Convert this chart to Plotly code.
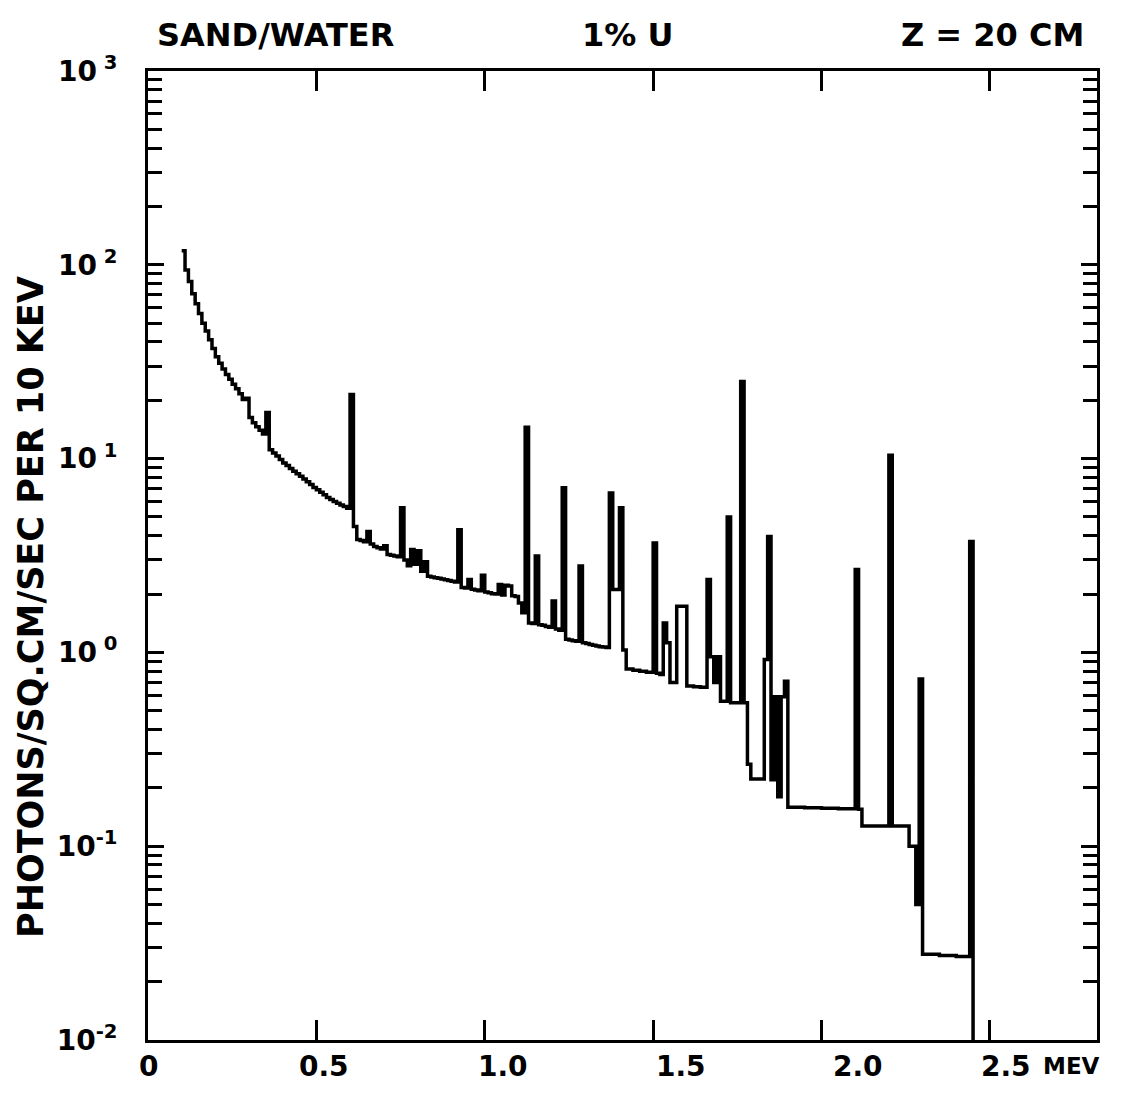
import plotly.graph_objects as go

# ---- data (bin left edge in MeV, flux per 10 keV) ----
energy_mev = [
    0.10, 0.11, 0.12, 0.13, 0.14, 0.15, 0.16, 0.17, 0.18, 0.19,
    0.20, 0.21, 0.22, 0.23, 0.24, 0.25, 0.26, 0.27, 0.28, 0.29,
    0.30, 0.31, 0.32, 0.33, 0.34, 0.35, 0.36, 0.37, 0.38, 0.39,
    0.40, 0.41, 0.42, 0.43, 0.44, 0.45, 0.46, 0.47, 0.48, 0.49,
    0.50, 0.51, 0.52, 0.53, 0.54, 0.55, 0.56, 0.57, 0.58, 0.59,
    0.60, 0.61, 0.62, 0.63, 0.64, 0.65, 0.66, 0.67, 0.68, 0.69,
    0.70, 0.71, 0.72, 0.73, 0.74, 0.75, 0.76, 0.77, 0.78, 0.79,
    0.80, 0.81, 0.82, 0.83, 0.84, 0.85, 0.86, 0.87, 0.88, 0.89,
    0.90, 0.91, 0.92, 0.93, 0.94, 0.95, 0.96, 0.97, 0.98, 0.99,
    1.00, 1.01, 1.02, 1.03, 1.04, 1.05, 1.06, 1.07, 1.08, 1.09,
    1.10, 1.11, 1.12, 1.13, 1.14, 1.15, 1.16, 1.17, 1.18, 1.19,
    1.20, 1.21, 1.22, 1.23, 1.24, 1.25, 1.26, 1.27, 1.28, 1.29,
    1.30, 1.31, 1.32, 1.33, 1.34, 1.35, 1.36, 1.37, 1.38, 1.39,
    1.40, 1.41, 1.42, 1.44, 1.46, 1.48, 1.50, 1.51, 1.52, 1.53,
    1.54, 1.55, 1.57, 1.60, 1.62, 1.64, 1.66, 1.67, 1.68, 1.69,
    1.70, 1.72, 1.73, 1.76, 1.77, 1.78, 1.79, 1.83, 1.84, 1.85,
    1.86, 1.87, 1.88, 1.89, 1.90, 1.95, 2.00, 2.05, 2.10, 2.11,
    2.12, 2.20, 2.21, 2.26, 2.28, 2.29, 2.30, 2.35, 2.40, 2.44,
    2.45, 2.46,
]
flux = [
    118, 94, 82, 71, 63, 56, 50, 45.5, 41, 37,
    33.5, 31, 29, 27.2, 25.7, 24.2, 22.9, 21.6, 20.2, 20.5,
    16.3, 15.3, 14.6, 14.0, 13.4, 17.3, 11.1, 10.7, 10.3, 9.9,
    9.5, 9.2, 8.9, 8.6, 8.35, 8.1, 7.85, 7.6, 7.35, 7.1,
    6.9, 6.7, 6.5, 6.3, 6.15, 6.0, 5.88, 5.76, 5.66, 5.55,
    21.4, 4.46, 3.82, 3.78, 3.72, 4.2, 3.62, 3.52, 3.47, 3.42,
    3.55, 3.2, 3.17, 3.14, 3.12, 5.57, 3.0, 2.8, 3.4, 2.85,
    3.35, 2.62, 2.94, 2.47, 2.45, 2.43, 2.41, 2.39, 2.37, 2.35,
    2.33, 2.31, 4.3, 2.16, 2.15, 2.38, 2.12, 2.10, 2.08, 2.5,
    2.05, 2.03, 2.01, 2.0, 2.24, 1.98, 2.22, 2.2, 1.96, 1.94,
    1.80, 1.60, 14.5, 1.42, 1.41, 3.14, 1.39, 1.38, 1.36, 1.35,
    1.84, 1.32, 1.30, 7.07, 1.17, 1.16, 1.15, 1.14, 2.79, 1.12,
    1.11, 1.10, 1.09, 1.08, 1.07, 1.065, 1.06, 6.65, 2.11, 2.11,
    5.57, 1.03, 0.82, 0.81, 0.80, 0.79, 3.67, 0.78, 0.77, 1.42,
    1.12, 0.70, 1.73, 0.67, 0.665, 0.66, 2.38, 0.95, 0.70, 0.95,
    0.56, 5.0, 0.55, 25.0, 0.55, 0.265, 0.222, 0.92, 3.96, 0.22,
    0.59, 0.18, 0.59, 0.71, 0.159, 0.158, 0.157, 0.156, 2.68, 0.155,
    0.127, 10.4, 0.127, 0.10, 0.05, 0.73, 0.0277, 0.0273, 0.027, 3.73,
    0.001, 0.001,
]

x_tick_vals = [0, 0.5, 1.0, 1.5, 2.0, 2.5]
x_tick_text = ["0", "0.5", "1.0", "1.5", "2.0", "2.5"]
x_label_shift_px = [0, 8, 18, 28, 36, 16]
y_tick_vals = [0.01, 0.1, 1, 10, 100, 1000]
y_tick_text = ["10<sup>-2</sup>", "10<sup>-1</sup>", "10<sup> 0</sup>",
               "10<sup> 1</sup>", "10<sup> 2</sup>", "10<sup> 3</sup>"]
y_minor_vals = [m * 10.0 ** k for k in range(-2, 3) for m in range(2, 10)]

FONT = "DejaVu Sans"
W, H = 1132, 1093
OFF = 8  # page offset of the figure inside the browser window
# plot area in window pixels (as seen in the reference)
PL, PR, PT, PB = 148, 1097, 71, 1040


def px_to_paper(px, py):
    return (px - PL) / (PR - PL), (PB - py) / (PB - PT)


def bold_font(size):
    return dict(size=size, family=FONT, color="black", weight="bold")


fig = go.Figure()
fig.add_trace(go.Scatter(
    x=energy_mev, y=flux, mode="lines",
    line=dict(color="black", width=3.5, shape="hv"),
    showlegend=False, hoverinfo="skip",
))

fig.update_layout(
    width=W, height=H,
    margin=dict(l=PL - OFF, r=W - (PR - OFF), t=PT - OFF, b=H - (PB - OFF)),
    paper_bgcolor="white", plot_bgcolor="white",
    font=dict(family=FONT, color="black"),
)

fig.update_xaxes(
    range=[0, 2.818], showgrid=False, zeroline=False,
    showline=True, linecolor="black", linewidth=3, mirror="ticks",
    ticks="inside", ticklen=20, tickwidth=2.5, tickcolor="black",
    tickmode="array", tickvals=x_tick_vals, ticktext=[""] * len(x_tick_vals),
)
fig.update_yaxes(
    type="log", range=[-2, 3], showgrid=False, zeroline=False,
    showline=True, linecolor="black", linewidth=3, mirror="ticks",
    ticks="inside", ticklen=16, tickwidth=2.5, tickcolor="black",
    tickmode="array", tickvals=y_tick_vals, ticktext=y_tick_text,
    tickfont=bold_font(28), ticklabelstandoff=22,
    minor=dict(ticks="inside", ticklen=14, tickwidth=2.5, tickcolor="black",
               tickmode="array", tickvals=y_minor_vals, showgrid=False),
)

# x tick labels (under their ticks, drifting right as in the plotter original)
_, ylab = px_to_paper(0, 1066)
for v, t, s in zip(x_tick_vals, x_tick_text, x_label_shift_px):
    fig.add_annotation(
        text=t, xref="x", yref="paper", x=v, y=ylab, xshift=s,
        xanchor="center", yanchor="middle", showarrow=False,
        font=bold_font(28),
    )

titles = [
    ("SAND/WATER", 155, "left"),
    ("1% U", 627, "center"),
    ("Z = 20 CM", 1086, "right"),
]
for text, xpx, anchor in titles:
    xp, yp = px_to_paper(xpx, 35)
    fig.add_annotation(
        text=text, xref="paper", yref="paper", x=xp, y=yp,
        xanchor=anchor, yanchor="middle", showarrow=False,
        font=bold_font(32),
    )

xp, yp = px_to_paper(1102, 1066)
fig.add_annotation(
    text="MEV", xref="paper", yref="paper", x=xp, y=yp,
    xanchor="right", yanchor="middle", showarrow=False,
    font=bold_font(23),
)
xp, yp = px_to_paper(31, 607)
fig.add_annotation(
    text="PHOTONS/SQ.CM/SEC PER 10 KEV", xref="paper", yref="paper",
    x=xp, y=yp, textangle=-90,
    xanchor="center", yanchor="middle", showarrow=False,
    font=bold_font(35),
)

fig.write_html("out.html")
